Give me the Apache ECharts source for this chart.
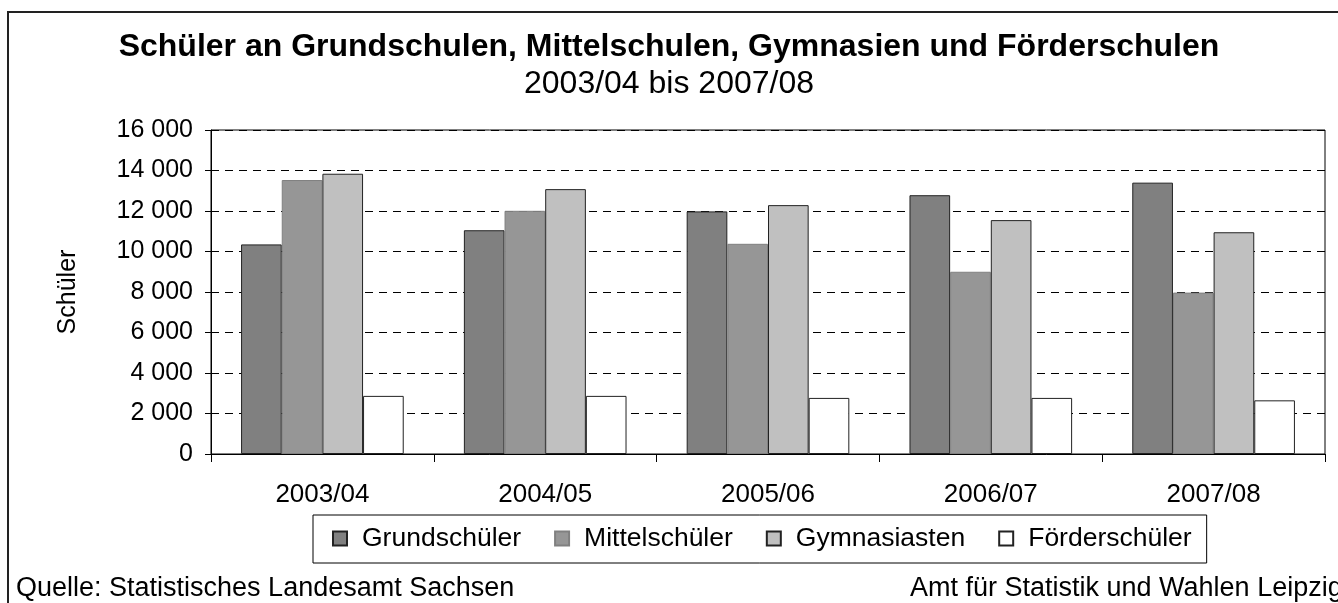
<!DOCTYPE html>
<html>
<head>
<meta charset="utf-8">
<script src="https://cdn.jsdelivr.net/npm/echarts@6/dist/echarts.min.js"></script>
<style>
	html, body { margin: 0; padding: 0; background: #fff; }
	#chart { width: 1338px; height: 603px; }
</style>
</head>
<body>
<div id="chart"></div>
<script>
var schuljahre = ['2003/04', '2004/05', '2005/06', '2006/07', '2007/08'];
var grundschueler = [10350, 11050, 11980, 12780, 13400];
var mittelschueler = [13530, 12010, 10380, 9000, 7970];
var gymnasiasten = [13840, 13080, 12290, 11550, 10950];
var foerderschueler = [2870, 2870, 2770, 2770, 2650];

var FONT = "'Liberation Sans', Arial, sans-serif";

// tausender mit leerzeichen trennen
function fmt(v) {
	return String(v).replace(/\B(?=(\d{3})+(?!\d))/g, ' ');
}

function bar(name, data, color, border) {
	return {
		name: name,
		type: 'bar',
		data: data,
		barGap: '0%',
		barCategoryGap: '27%',
		itemStyle: {
			color: color,
			borderColor: border,
			borderWidth: 1
		}
	};
}

var chart = echarts.init(document.getElementById('chart'));

chart.setOption({
	animation: false,
	textStyle: { fontFamily: FONT },
	title: [
		{
			text: 'Schüler an Grundschulen, Mittelschulen, Gymnasien und Förderschulen',
			left: 'center',
			top: 31,
			padding: 0,
			textStyle: { fontSize: 32, fontWeight: 'bold', color: '#000', fontFamily: FONT, lineHeight: 32 }
		},
		{
			text: '2003/04 bis 2007/08',
			left: 'center',
			top: 68,
			padding: 0,
			textStyle: { fontSize: 32, fontWeight: 'normal', color: '#000', fontFamily: FONT, lineHeight: 32 }
		}
	],
	legend: {
		left: 313,
		top: 515,
		padding: [10, 15, 11, 19],
		itemGap: 33,
		itemWidth: 14,
		itemHeight: 14,
		icon: 'rect',
		borderColor: '#000',
		borderWidth: 1,
		textStyle: { fontSize: 26.5, color: '#000', fontFamily: FONT, padding: [0, 0, 0, 10] },
		data: ['Grundschüler', 'Mittelschüler', 'Gymnasiasten', 'Förderschüler']
	},
	grid: {
		left: 211,
		top: 130,
		right: 13,
		bottom: 149,
		show: true,
		borderColor: '#000',
		borderWidth: 1,
		backgroundColor: '#fff'
	},
	xAxis: {
		type: 'category',
		data: schuljahre,
		axisLine: { lineStyle: { color: '#000', width: 1 } },
		axisTick: { show: true, length: 8, lineStyle: { color: '#000' } },
		axisLabel: { fontSize: 26, color: '#000', margin: 28, fontFamily: FONT }
	},
	yAxis: {
		type: 'value',
		min: 0,
		max: 16000,
		interval: 2000,
		name: 'Schüler',
		nameLocation: 'middle',
		nameRotate: 90,
		nameGap: 130,
		nameTextStyle: { fontSize: 25, color: '#000', fontFamily: FONT },
		axisLine: { show: true, lineStyle: { color: '#000', width: 1 } },
		axisTick: { show: true, length: 6, lineStyle: { color: '#000' } },
		axisLabel: { fontSize: 25, color: '#000', margin: 18, fontFamily: FONT, formatter: fmt },
		splitLine: { show: true, lineStyle: { color: '#000', type: [8, 6], width: 1 } }
	},
	series: [
		bar('Grundschüler', grundschueler, '#808080', '#222'),
		bar('Mittelschüler', mittelschueler, '#969696', '#808080'),
		bar('Gymnasiasten', gymnasiasten, '#c0c0c0', '#222'),
		bar('Förderschüler', foerderschueler, '#ffffff', '#222')
	],
	graphic: [
		{
			type: 'rect',
			z: -1,
			shape: { x: 8, y: 12, width: 1345, height: 620 },
			style: { fill: 'none', stroke: '#222', lineWidth: 2 }
		},
		{
			type: 'text',
			left: 16,
			top: 575,
			style: { text: 'Quelle: Statistisches Landesamt Sachsen', fontSize: 27, fill: '#000', fontFamily: FONT }
		},
		{
			type: 'text',
			x: 910,
			y: 575,
			style: { text: 'Amt für Statistik und Wahlen Leipzig', fontSize: 27, fill: '#000', fontFamily: FONT }
		}
	]
});
</script>
</body>
</html>
